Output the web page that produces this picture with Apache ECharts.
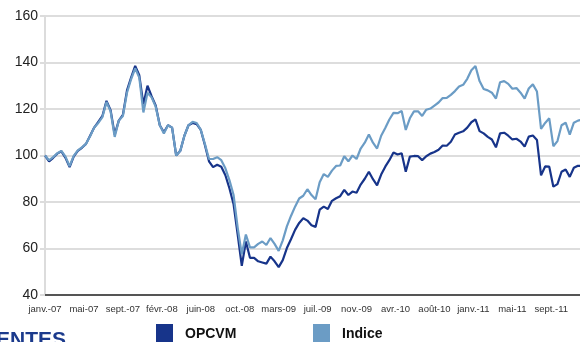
<!DOCTYPE html>
<html>
<head>
<meta charset="utf-8">
<script src="https://cdn.jsdelivr.net/npm/echarts@6/dist/echarts.min.js"></script>
<style>
  html, body { margin: 0; padding: 0; background: #ffffff; }
  #chart { width: 580px; height: 342px; }
</style>
</head>
<body>
<div id="chart"></div>
<script>
// Axis labels along the bottom, one every 19 weeks
const xTicks = ['janv.-07', 'mai-07', 'sept.-07', 'févr.-08', 'juin-08', 'oct.-08', 'mars-09',
  'juil.-09', 'nov.-09', 'avr.-10', 'août-10', 'janv.-11', 'mai-11', 'sept.-11'];
const weeksPerTick = 19;
const weekStep = 2; // one value every two weeks

const seriesNames = ['OPCVM', 'Indice'];

// Fund (OPCVM), base 100
const opcvm = [
  100, 97.5, 99, 100.8, 101.8, 99, 95, 99.5, 102, 103.3,
  105, 108.5, 112, 114.5, 117, 123.5, 119.5, 109, 115, 117.5,
  128, 133.5, 138.5, 134.5, 122, 130, 125.5, 121.5, 113, 110,
  113, 112, 100, 102, 108.5, 113, 114, 113.5, 111, 104.5,
  97.5, 95, 96, 95.2, 91.5, 85.8, 79, 66, 52.5, 63,
  56, 56, 54.5, 54, 53.5, 56.5, 54.5, 52, 55, 60.2,
  64, 68, 71, 73, 72, 70, 69.3, 76.7, 78, 77,
  80.5, 81.6, 82.5, 85.2, 83, 84.5, 84, 87.5, 90, 93,
  89.8, 87.2, 91.8, 95.2, 98, 101.3, 100.4, 101, 93, 99.5,
  99.8, 99.7, 98, 99.7, 100.8, 101.5, 102.5, 104.3, 104.2, 105.9,
  109, 109.8, 110.4, 112, 114.3, 115.5, 110.5, 109.5, 108, 106.9,
  103.5, 109.5, 109.8, 108.5, 106.9, 107.2, 106, 103.8, 108.1, 108.6,
  106.7, 91.5, 95.3, 95.2, 86.6, 87.7, 93, 94, 90.8, 94.7,
  95.6, 95.4
];

// Benchmark index (Indice), base 100
const indice = [
  100, 98, 99.3, 101, 102, 99.5, 95.4, 99.8, 102.2, 103.5,
  105, 108.3, 112, 114, 116.5, 123, 119, 108, 115, 117,
  127, 132.8, 137.5, 133.5, 118.5, 127, 125, 121, 113, 109.5,
  113, 112, 100, 102, 108.5, 113, 114.5, 114, 111, 105,
  98.5, 98.5, 99.3, 98, 94.5, 89.3, 83, 69, 57.5, 66,
  60.5, 60.5, 62, 63, 61.5, 64.5, 62, 59, 63.5, 69.5,
  74, 78, 81.5, 82.7, 85.5, 83, 81.2, 88.5, 92, 90.8,
  93.5, 95.5, 95.7, 99.7, 97.5, 100, 98.5, 103, 105.5, 109,
  105.5, 103, 108.5, 111.8, 115.5, 118.3, 118.2, 119.1, 111, 116,
  119, 119, 117, 119.7, 120.2, 121.5, 122.8, 124.7, 124.8, 126.1,
  127.7, 129.7, 130.4, 133, 136.7, 138.5, 132, 128.6, 128, 127,
  124.5, 131.5, 132, 130.8, 128.7, 129, 127, 124.5, 128.8, 130.6,
  127.5, 111.5, 114, 116, 104, 106.2, 113, 114.1, 109, 114.1,
  115, 115.4
];

const colors = { OPCVM: '#17348a', Indice: '#6b9cc5' };

const toPairs = arr => arr.map((v, i) => [i * weekStep, v]);

const chart = echarts.init(document.getElementById('chart'), null, { renderer: 'canvas' });

const legendBase = {
  orient: 'horizontal',
  icon: 'rect',
  itemWidth: 17,
  itemHeight: 20,
  itemGap: 10,
  top: 324,
  padding: 0,
  selectedMode: false,
  textStyle: {
    fontFamily: 'Liberation Sans, Arial, sans-serif',
    fontSize: 14,
    fontWeight: 'bold',
    color: '#111',
    padding: [9, 0, 0, 7]
  }
};

chart.setOption({
  animation: false,
  backgroundColor: '#ffffff',
  grid: { left: 45, right: 0, top: 16, bottom: 47, containLabel: false },
  legend: [
    Object.assign({}, legendBase, { left: 156, data: [seriesNames[0]] }),
    Object.assign({}, legendBase, { left: 313, data: [seriesNames[1]] })
  ],
  graphic: [{
    type: 'text',
    left: -4,
    top: 330,
    style: {
      text: 'ENTES',
      fill: '#1b3a8c',
      font: 'bold 21px "Liberation Sans", Arial, sans-serif'
    }
  }],
  xAxis: {
    type: 'value',
    min: 0,
    max: 261,
    interval: weeksPerTick,
    axisLine: { show: true, lineStyle: { color: '#555555', width: 2 } },
    axisTick: { show: false },
    splitLine: { show: false },
    axisLabel: {
      showMaxLabel: false,
      margin: 9,
      fontSize: 9.5,
      color: '#333333',
      fontFamily: 'Liberation Sans, Arial, sans-serif',
      formatter: v => (v % weeksPerTick === 0 ? (xTicks[v / weeksPerTick] || '') : '')
    }
  },
  yAxis: {
    type: 'value',
    min: 40,
    max: 160,
    interval: 20,
    axisLine: { show: true, lineStyle: { color: '#dcdcdc', width: 2 } },
    axisTick: { show: true, length: 5, lineStyle: { color: '#dcdcdc', width: 2 } },
    splitLine: { show: true, lineStyle: { color: '#dddddd', width: 2 } },
    axisLabel: {
      margin: 7,
      fontSize: 14,
      color: '#222222',
      fontFamily: 'Liberation Sans, Arial, sans-serif'
    }
  },
  series: [
    {
      name: seriesNames[0],
      type: 'line',
      data: toPairs(opcvm),
      showSymbol: false,
      color: colors.OPCVM,
      lineStyle: { width: 2.2, color: colors.OPCVM },
      z: 2
    },
    {
      name: seriesNames[1],
      type: 'line',
      data: toPairs(indice),
      showSymbol: false,
      color: colors.Indice,
      lineStyle: { width: 2.2, color: colors.Indice },
      z: 3
    }
  ]
});
</script>
</body>
</html>
